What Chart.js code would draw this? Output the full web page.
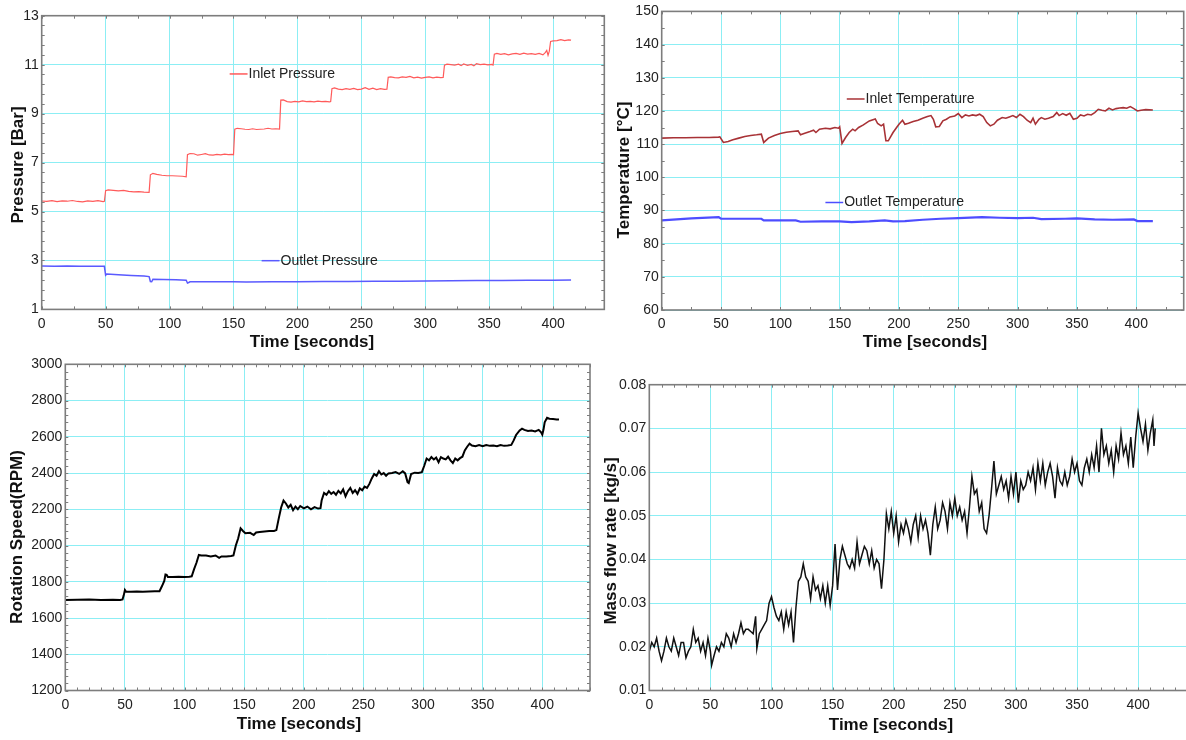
<!DOCTYPE html>
<html>
<head>
<meta charset="utf-8">
<title>Test bench run</title>
<script src="https://cdn.jsdelivr.net/npm/chart.js@4.4.1/dist/chart.umd.min.js"></script>
<style>
  html, body { margin: 0; padding: 0; background: #fff; }
  body { position: relative; width: 1186px; height: 740px; overflow: hidden; }
  canvas { position: absolute; }
</style>
</head>
<body>
<canvas id="graficoPressao" width="612" height="356" style="left:0;top:0"></canvas>
<canvas id="graficoTemperatura" width="574" height="356" style="left:612px;top:0"></canvas>
<canvas id="graficoRotacao" width="596" height="388" style="left:0;top:352px"></canvas>
<canvas id="graficoVazao" width="600" height="388" style="left:596px;top:352px"></canvas>
<script>
// Eixo de tempo comum
const timeTicks = [0, 50, 100, 150, 200, 250, 300, 350, 400];
const pressureTicks = [1, 3, 5, 7, 9, 11, 13];
const temperatureTicks = [60, 70, 80, 90, 100, 110, 120, 130, 140, 150];
const rpmTicks = [1200, 1400, 1600, 1800, 2000, 2200, 2400, 2600, 2800, 3000];
const flowTicks = [0.01, 0.02, 0.03, 0.04, 0.05, 0.06, 0.07, 0.08];

// Pressão de entrada [bar]
const inletPressureTime = [0, 4, 8, 12, 16, 20, 24, 28, 32, 36, 40, 44, 48, 49,
  50, 52, 56, 60, 64, 68, 72, 76, 80, 84,
  85, 87, 90, 94, 98, 102, 106, 110, 113,
  114, 116, 119, 122, 125, 128, 131, 134, 137, 140, 143, 146, 149, 150,
  151, 153, 156, 159, 162, 165, 168, 171, 174, 177, 180, 183, 186,
  187, 189, 192, 195, 198, 201, 204, 207, 210, 213, 216, 219, 222, 225, 226,
  227, 229, 232, 235, 238, 241, 244, 247, 250, 253, 256, 259, 262, 265, 268, 270,
  271, 273, 276, 279, 282, 285, 288, 291, 294, 297, 300, 303, 306, 309, 312, 314,
  315, 317, 320, 323, 326, 328, 330, 333, 336, 338, 340, 343, 346, 349, 352, 353,
  354, 356, 359, 362, 365, 368, 371, 374, 377, 380, 383, 386, 389, 392, 394, 395, 396, 397,
  398, 400, 403, 406, 409, 412, 414];
const inletPressure = [5.43, 5.41, 5.44, 5.40, 5.43, 5.42, 5.45, 5.41, 5.39, 5.43, 5.41, 5.44, 5.40, 5.42,
  5.85, 5.88, 5.86, 5.84, 5.86, 5.82, 5.80, 5.81, 5.79, 5.78,
  6.50, 6.56, 6.52, 6.48, 6.46, 6.46, 6.45, 6.44, 6.42,
  7.32, 7.37, 7.36, 7.30, 7.33, 7.36, 7.31, 7.30, 7.33, 7.31, 7.34, 7.32, 7.33, 7.32,
  8.36, 8.40, 8.38, 8.36, 8.35, 8.38, 8.35, 8.36, 8.37, 8.40, 8.37, 8.38, 8.37,
  9.55, 9.56, 9.49, 9.47, 9.50, 9.48, 9.52, 9.49, 9.50, 9.48, 9.51, 9.49, 9.50, 9.48, 9.49,
  10.02, 10.05, 10.00, 9.98, 10.02, 9.99, 10.03, 9.98, 10.00, 10.06, 9.99, 10.04, 9.98, 10.02, 9.99, 10.00,
  10.48, 10.50, 10.47, 10.46, 10.50, 10.48, 10.52, 10.46, 10.49, 10.45, 10.48, 10.50, 10.46, 10.49, 10.47, 10.48,
  10.98, 11.02, 11.00, 10.98, 11.02, 10.96, 11.03, 10.97, 11.01, 10.95, 11.04, 11.00, 11.02, 10.99, 11.01, 10.98,
  11.43, 11.46, 11.42, 11.45, 11.40, 11.44, 11.46, 11.42, 11.47, 11.43, 11.45, 11.42, 11.46, 11.40, 11.50, 11.58, 11.38, 11.55,
  11.95, 11.97, 11.98, 12.02, 11.98, 12.01, 12.00];

// Pressão de saída [bar]
const outletPressureTime = [0, 10, 20, 30, 40, 49, 50, 51, 60, 70, 80, 84, 85, 86, 87, 95, 105, 113, 114, 115, 116,
  130, 150, 160, 180, 200, 220, 240, 260, 280, 300, 320, 340, 360, 380, 400, 414];
const outletPressure = [2.77, 2.76, 2.77, 2.76, 2.76, 2.76, 2.40, 2.45, 2.42, 2.39, 2.36, 2.34, 2.14, 2.13, 2.23, 2.22, 2.21, 2.19, 2.08, 2.10, 2.13,
  2.13, 2.13, 2.12, 2.13, 2.13, 2.14, 2.14, 2.15, 2.15, 2.16, 2.17, 2.18, 2.18, 2.19, 2.19, 2.20];

// Temperatura de entrada [°C]
const inletTempTime = [0, 10, 20, 30, 40, 48, 49, 52, 56, 60, 65, 70, 75, 80, 84,
  86, 90, 95, 100, 105, 110, 115,
  117, 120, 125, 128, 130, 133, 138, 142, 146, 149, 150,
  152, 155, 158, 161, 163, 166, 170, 175, 180, 182, 185, 187,
  189, 191, 195, 198, 200, 203, 205, 208, 212, 216, 220, 224, 227, 229, 231, 234, 237, 240, 243, 247, 250,
  253, 256, 259, 262, 265, 268, 271, 274, 277, 280, 283, 287, 290, 293, 296, 299, 302, 305, 308, 311, 313,
  315, 318, 320, 323, 326, 330, 333, 335, 338, 341, 344, 347, 350, 353, 356, 359, 362, 365, 368, 371, 374,
  377, 380, 383, 386, 389, 392, 395, 398, 401, 404, 408, 414];
const inletTemp = [111.8, 111.9, 111.9, 112.0, 112.0, 112.1, 112.2, 110.5, 110.8, 111.3, 111.8, 112.3, 112.6, 112.8, 113.0,
  110.5, 111.8, 112.6, 113.2, 113.6, 113.8, 114.0,
  112.8, 113.2, 113.8, 114.2, 113.5, 114.5, 114.8, 114.6, 115.0, 114.8, 115.2,
  110.2, 112.0, 113.5, 114.5, 114.0, 115.0, 115.8, 117.0, 117.6, 116.2, 115.5, 116.0,
  111.0, 111.0, 113.5, 115.0, 116.0, 117.2, 116.0, 116.3, 116.8, 117.2, 117.8, 118.3, 118.6, 117.5, 115.2, 115.3, 117.0, 117.5, 118.2, 118.5, 119.2,
  118.0, 118.8, 118.5, 118.8, 118.6, 119.0, 118.3, 116.5, 115.5, 116.0, 117.2, 118.0, 117.8, 118.2, 118.6, 118.0, 119.0, 118.3, 117.2, 116.5, 117.8,
  116.0, 117.5, 118.0, 117.5, 117.8, 118.3, 119.5, 118.6, 119.2, 118.7, 119.3, 117.5, 117.8, 118.8, 118.5, 119.0, 118.8, 119.5, 120.5, 120.2, 120.0,
  120.8, 120.3, 120.7, 120.9, 121.0, 120.8, 121.3, 120.7, 120.0, 120.2, 120.4, 120.3];

// Temperatura de saída [°C]
const outletTempTime = [0, 25, 48, 50, 65, 84, 86, 100, 113, 117, 135, 150, 160, 175, 188, 195, 205, 220, 235, 250, 265, 270,
  285, 300, 313, 320, 340, 350, 365, 380, 398, 401, 414];
const outletTemp = [87.0, 87.6, 88.0, 87.5, 87.5, 87.5, 87.0, 87.0, 87.0, 86.6, 86.7, 86.7, 86.5, 86.7, 87.0, 86.7, 86.8, 87.2, 87.5, 87.7, 87.9, 88.0,
  87.8, 87.7, 87.8, 87.4, 87.5, 87.6, 87.3, 87.2, 87.3, 86.8, 86.8];

// Rotação [RPM]
const rpmTime = [0, 10, 20, 30, 40, 46, 48, 49, 50, 51, 55, 60, 65, 70, 75, 79, 81, 83, 84, 85, 86, 90, 95, 100, 104, 106,
  108, 110, 112, 114, 118, 122, 126, 129, 131, 135, 139, 141, 143, 145, 147, 149, 151, 155, 158, 160, 163, 167, 171, 175, 177,
  179, 181, 183, 185, 187, 189, 191, 193, 195, 197, 200, 203, 206, 209, 212, 214,
  215, 217, 219, 221, 223, 225, 227, 229, 231, 233, 235, 237, 239, 241, 243, 245, 247, 249, 251, 253,
  255, 257, 259, 261, 263, 265, 267, 269, 271, 274, 277, 280, 283, 285, 287, 288, 290, 293, 296, 299,
  301, 303, 305, 307, 309, 311, 313, 315, 317, 319, 321, 323, 325, 327, 329, 331, 333,
  335, 337, 339, 341, 344, 347, 350, 353, 356, 359, 362, 365, 368, 371, 374,
  376, 378, 381, 383, 385, 388, 391, 394, 397, 399, 400, 401, 402, 404, 406, 409, 412, 414];
const rpm = [1700, 1701, 1702, 1700, 1701, 1699, 1702, 1725, 1755, 1745, 1745, 1746, 1745, 1746, 1747, 1748, 1775, 1805, 1840, 1838, 1826, 1826, 1827, 1826, 1828, 1830,
  1870, 1905, 1948, 1945, 1945, 1940, 1945, 1932, 1940, 1940, 1942, 1945, 2000, 2040, 2095, 2080, 2068, 2070, 2058, 2072, 2075, 2078, 2080, 2080, 2085,
  2150, 2210, 2248, 2232, 2210, 2225, 2195, 2215, 2200, 2218, 2205, 2215, 2200, 2212, 2204, 2206,
  2250, 2290, 2280, 2300, 2285, 2295, 2280, 2302, 2288, 2310, 2272, 2300, 2318, 2290, 2305, 2285, 2315, 2305, 2325, 2318,
  2340, 2370, 2395, 2385, 2410, 2392, 2400, 2385, 2398, 2400, 2405, 2395, 2410, 2398, 2350, 2345, 2395, 2402, 2400, 2405,
  2440, 2480, 2470, 2488, 2475, 2485, 2460, 2488, 2480, 2475, 2490, 2470, 2455, 2480, 2470, 2482, 2490,
  2525, 2545, 2562, 2552, 2548, 2555, 2548, 2555, 2550, 2552, 2548, 2555, 2550, 2552, 2555,
  2580, 2610, 2635, 2645, 2638, 2632, 2635, 2630, 2638, 2625, 2612, 2640, 2680, 2705, 2700, 2698, 2696, 2695];

// Vazão mássica [kg/s]
const flowTime = [0, 2, 4, 6, 8, 10, 12, 14, 16, 18, 20, 22, 24, 26, 28, 30, 32, 34, 36, 38, 40, 42, 44, 46, 48, 50,
  51, 53, 55, 57, 59, 61, 63, 65, 67, 69, 71, 73, 75, 77, 79, 81, 83, 85, 87,
  88, 90, 92, 94, 96, 98, 100, 102, 104, 106, 108, 110, 112, 114, 116, 118, 120, 122, 124, 126, 128, 130,
  132, 134, 136, 138, 140, 142, 144, 146, 148, 150, 152, 154, 156, 158, 160, 162, 164, 166, 168, 170,
  172, 174, 176, 178, 180, 182, 184, 186, 188, 190, 192, 194, 196, 198, 200, 202, 204, 206, 208, 210,
  212, 214, 216, 218, 220, 222, 224, 226, 228, 230, 232, 234, 236, 238, 240, 242, 244, 246, 248, 250,
  252, 254, 256, 258, 260, 262, 264, 266, 268, 270, 272, 274, 276, 278, 280, 282, 284, 286, 288, 290,
  292, 294, 296, 298, 300, 302, 304, 306, 308, 310, 312, 314, 316, 318, 320, 322, 324, 326, 328, 330,
  332, 334, 336, 338, 340, 342, 344, 346, 348, 350, 352, 354, 356, 358, 360, 362, 364, 366, 368, 370,
  372, 374, 376, 378, 380, 382, 384, 386, 388, 390, 392, 394, 396, 398, 400, 402, 404, 406, 408, 410,
  412, 413, 414];
const flowRate = [0.019, 0.021, 0.020, 0.022, 0.019, 0.0168, 0.019, 0.022, 0.020, 0.019, 0.022, 0.020, 0.018, 0.021, 0.021, 0.0175, 0.019, 0.020, 0.024, 0.021, 0.022, 0.019, 0.021, 0.018, 0.022, 0.019,
  0.0158, 0.018, 0.020, 0.019, 0.021, 0.020, 0.023, 0.022, 0.020, 0.023, 0.021, 0.023, 0.0255, 0.023, 0.024, 0.024, 0.0235, 0.023, 0.027,
  0.0196, 0.023, 0.024, 0.025, 0.026, 0.030, 0.0315, 0.029, 0.027, 0.026, 0.028, 0.024, 0.028, 0.025, 0.028, 0.021, 0.029, 0.035, 0.036, 0.039, 0.036, 0.035,
  0.031, 0.036, 0.033, 0.034, 0.031, 0.034, 0.030, 0.034, 0.0295, 0.034, 0.0435, 0.033, 0.040, 0.043, 0.041, 0.039, 0.038, 0.040, 0.038, 0.044,
  0.039, 0.041, 0.043, 0.042, 0.039, 0.042, 0.038, 0.040, 0.039, 0.0333, 0.040, 0.0505, 0.047, 0.051, 0.046, 0.050, 0.044, 0.048, 0.046, 0.049,
  0.047, 0.044, 0.048, 0.050, 0.045, 0.050, 0.047, 0.049, 0.046, 0.041, 0.048, 0.052, 0.047, 0.049, 0.053, 0.051, 0.047, 0.053, 0.050, 0.054,
  0.050, 0.052, 0.049, 0.051, 0.046, 0.052, 0.059, 0.055, 0.056, 0.051, 0.053, 0.047, 0.046, 0.050, 0.056, 0.0625, 0.055, 0.057, 0.059, 0.056,
  0.058, 0.054, 0.059, 0.055, 0.060, 0.053, 0.058, 0.056, 0.057, 0.060, 0.058, 0.061, 0.056, 0.062, 0.058, 0.062, 0.057, 0.060, 0.062, 0.059,
  0.054, 0.061, 0.058, 0.057, 0.060, 0.057, 0.059, 0.063, 0.060, 0.062, 0.058, 0.057, 0.061, 0.063, 0.060, 0.064, 0.061, 0.066, 0.060, 0.070,
  0.064, 0.066, 0.062, 0.065, 0.060, 0.066, 0.063, 0.069, 0.064, 0.066, 0.062, 0.068, 0.061, 0.068, 0.0735, 0.070, 0.067, 0.071, 0.065, 0.069,
  0.072, 0.066, 0.070];

const gridCyan = 'rgb(140, 238, 244)';
const frameGray = '#7d7d7d';
const textDark = '#222';

Chart.defaults.font.family = '"Liberation Sans", Arial, sans-serif';
Chart.defaults.color = textDark;

function pontos(xs, ys) {
    return xs.map((x, i) => ({ x: x, y: ys[i] }));
}

// Moldura, marcas menores, títulos dos eixos e rótulos das séries
const moldura = {
    id: 'moldura',
    afterDraw(chart, args, opts) {
        const { ctx, chartArea: a, scales: { x, y } } = chart;
        ctx.save();
        ctx.strokeStyle = frameGray;
        ctx.lineWidth = 1;
        ctx.beginPath();
        if (opts.minorX) {
            for (let v = x.min; v <= x.max + 1e-9; v += opts.minorX) {
                const px = Math.round(x.getPixelForValue(v)) + 0.5;
                ctx.moveTo(px, a.bottom); ctx.lineTo(px, a.bottom - 3);
                ctx.moveTo(px, a.top); ctx.lineTo(px, a.top + 3);
            }
        }
        if (opts.minorY) {
            for (let v = y.min; v <= y.max + 1e-9; v += opts.minorY) {
                const py = Math.round(y.getPixelForValue(v)) + 0.5;
                ctx.moveTo(a.left, py); ctx.lineTo(a.left + 3, py);
                ctx.moveTo(a.right, py); ctx.lineTo(a.right - 3, py);
            }
        }
        ctx.stroke();
        ctx.lineWidth = 1.6;
        ctx.strokeRect(a.left, a.top, a.width, a.height);

        // títulos dos eixos
        ctx.fillStyle = '#111';
        ctx.font = 'bold 17px "Liberation Sans", Arial, sans-serif';
        ctx.textAlign = 'center';
        ctx.textBaseline = 'middle';
        ctx.fillText(opts.xTitle.text, opts.xTitle.cx, opts.xTitle.cy);
        ctx.save();
        ctx.translate(opts.yTitle.cx, opts.yTitle.cy);
        ctx.rotate(-Math.PI / 2);
        ctx.fillText(opts.yTitle.text, 0, 0);
        ctx.restore();

        // rótulos das séries dentro do gráfico
        (opts.tags || []).forEach(t => {
            const ds = chart.data.datasets[t.dataset];
            const x0 = x.getPixelForValue(t.x0);
            const x1 = x.getPixelForValue(t.x1);
            const py = y.getPixelForValue(t.y);
            ctx.strokeStyle = ds.borderColor;
            ctx.lineWidth = 1.5;
            ctx.beginPath();
            ctx.moveTo(x0, py); ctx.lineTo(x1, py);
            ctx.stroke();
            ctx.fillStyle = textDark;
            ctx.font = '14px "Liberation Sans", Arial, sans-serif';
            ctx.textAlign = 'left';
            ctx.fillText(ds.label, x1 + 1, py);
        });
        ctx.restore();
    }
};

function eixoTempo(altura) {
    return {
        type: 'linear',
        min: 0,
        max: 440,
        afterBuildTicks: s => { s.ticks = timeTicks.map(v => ({ value: v })); },
        afterFit: s => { s.height = altura; },
        grid: { color: gridCyan, drawTicks: false },
        border: { display: false },
        ticks: { padding: 6, autoSkip: false, maxRotation: 0, font: { size: 14 } }
    };
}

function eixoY(valores, largura, formato) {
    return {
        type: 'linear',
        min: valores[0],
        max: valores[valores.length - 1],
        afterBuildTicks: s => { s.ticks = valores.map(v => ({ value: v })); },
        afterFit: s => { s.width = largura; },
        grid: { color: gridCyan, drawTicks: false },
        border: { display: false },
        ticks: { padding: 3, autoSkip: false, font: { size: 14 }, callback: formato || (v => v) }
    };
}

function opcoes(padding, x, y, molduraOpts) {
    return {
        responsive: false,
        animation: false,
        devicePixelRatio: 1,
        layout: { padding: padding },
        elements: { point: { radius: 0 }, line: { tension: 0 } },
        scales: { x: x, y: y },
        plugins: { legend: { display: false }, tooltip: { enabled: false }, moldura: molduraOpts }
    };
}

// Pressão
new Chart(document.getElementById('graficoPressao'), {
    type: 'line',
    data: {
        datasets: [
            { label: 'Inlet Pressure', data: pontos(inletPressureTime, inletPressure), borderColor: '#ff5a5a', borderWidth: 1.2 },
            { label: 'Outlet Pressure', data: pontos(outletPressureTime, outletPressure), borderColor: '#5a5aff', borderWidth: 1.5 }
        ]
    },
    options: opcoes({ top: 15.7, right: 7.7, bottom: 0, left: 0 }, eixoTempo(46.6), eixoY(pressureTicks, 41.7), {
        minorX: 25, minorY: 0.4,
        xTitle: { text: 'Time [seconds]', cx: 312, cy: 342 },
        yTitle: { text: 'Pressure [Bar]', cx: 18, cy: 165 },
        tags: [
            { dataset: 0, x0: 147, x1: 161, y: 10.62 },
            { dataset: 1, x0: 172, x1: 186, y: 2.99 }
        ]
    }),
    plugins: [moldura]
});

// Temperatura
new Chart(document.getElementById('graficoTemperatura'), {
    type: 'line',
    data: {
        datasets: [
            { label: 'Inlet Temperature', data: pontos(inletTempTime, inletTemp), borderColor: '#a83236', borderWidth: 1.6 },
            { label: 'Outlet Temperature', data: pontos(outletTempTime, outletTemp), borderColor: '#4d4dff', borderWidth: 2.2 }
        ]
    },
    options: opcoes({ top: 10, right: 2.3, bottom: 0, left: 0 }, eixoTempo(46), eixoY(temperatureTicks, 49.7), {
        minorX: 25, minorY: 5,
        xTitle: { text: 'Time [seconds]', cx: 313, cy: 342 },
        yTitle: { text: 'Temperature [°C]', cx: 12, cy: 170 },
        tags: [
            { dataset: 0, x0: 156, x1: 171, y: 123.6 },
            { dataset: 1, x0: 138, x1: 153, y: 92.4 }
        ]
    }),
    plugins: [moldura]
});

// Rotação
new Chart(document.getElementById('graficoRotacao'), {
    type: 'line',
    data: {
        datasets: [
            { label: 'Rotation Speed', data: pontos(rpmTime, rpm), borderColor: '#000', borderWidth: 2 }
        ]
    },
    options: opcoes({ top: 12.3, right: 6, bottom: 0, left: 0 }, eixoTempo(49.5), eixoY(rpmTicks, 65.3), {
        minorX: 10, minorY: 40,
        xTitle: { text: 'Time [seconds]', cx: 299, cy: 372 },
        yTitle: { text: 'Rotation Speed(RPM)', cx: 17, cy: 185 }
    }),
    plugins: [moldura]
});

// Vazão mássica
new Chart(document.getElementById('graficoVazao'), {
    type: 'line',
    data: {
        datasets: [
            { label: 'Mass flow rate', data: pontos(flowTime, flowRate), borderColor: '#111', borderWidth: 1.5 }
        ]
    },
    options: opcoes({ top: 32.7, right: 9, bottom: 0, left: 0 }, eixoTempo(49.5), eixoY(flowTicks, 53.3, v => v.toFixed(2)), {
        minorX: 10,
        xTitle: { text: 'Time [seconds]', cx: 295, cy: 373 },
        yTitle: { text: 'Mass flow rate [kg/s]', cx: 15, cy: 189 }
    }),
    plugins: [moldura]
});
</script>
</body>
</html>
